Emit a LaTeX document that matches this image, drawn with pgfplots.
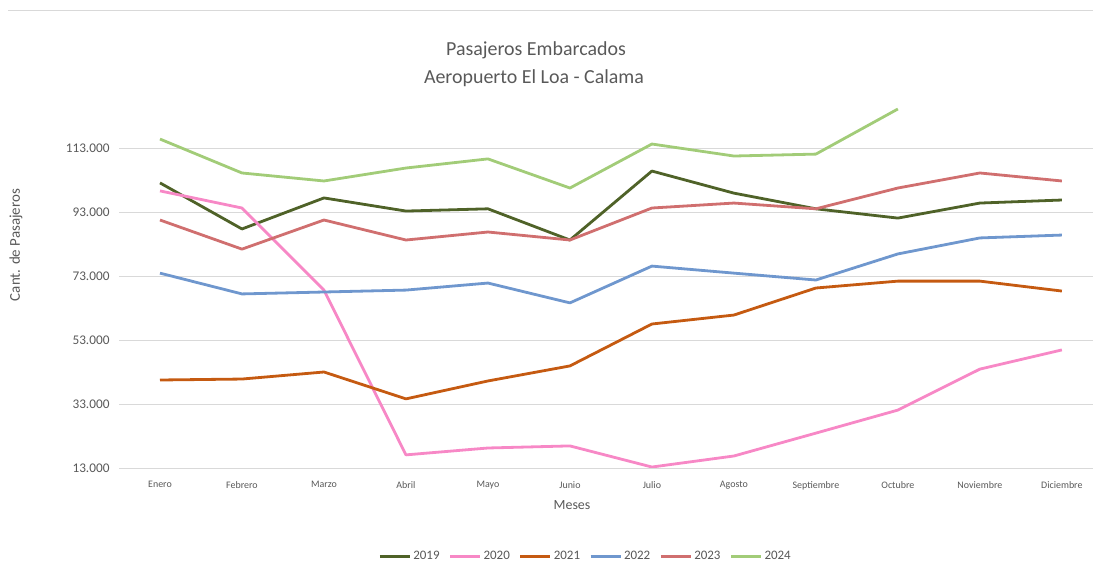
\documentclass[border=0pt]{standalone}
\usepackage{fontspec}
\setmainfont{Carlito}
\usepackage{pgfplots}
\pgfplotsset{compat=1.18}
\definecolor{c19}{HTML}{4F6228}
\definecolor{c20}{HTML}{F788C6}
\definecolor{c21}{HTML}{C55A11}
\definecolor{c22}{HTML}{6F97CE}
\definecolor{c23}{HTML}{D06F6F}
\definecolor{c24}{HTML}{A2CC78}
\definecolor{txt}{HTML}{595959}
\definecolor{grd}{HTML}{D9D9D9}
\begin{document}
\begin{tikzpicture}[x=1bp,y=1bp]
\useasboundingbox (0,0) rectangle (1093,575);
\draw[draw=grd, line width=0.8bp] (8,565) -- (1093,565);
\node[txt, font=\fontsize{20}{24}\selectfont] at (536,525) {Pasajeros Embarcados};
\node[txt, font=\fontsize{20}{24}\selectfont] at (534,497) {Aeropuerto El Loa - Calama};
\node[txt, font=\fontsize{15}{18}\selectfont, rotate=90] at (16,330) {Cant. de Pasajeros};
\node[txt, font=\fontsize{14}{16}\selectfont] at (572,70) {Meses};
\begin{axis}[
  at={(119bp,107bp)}, anchor=south west,
  width=974bp, height=383bp, scale only axis,
  xmin=-0.5, xmax=11.38, ymin=13000, ymax=132700,
  axis line style={draw=none},
  xtick=data,
  xticklabels={Enero,Febrero,Marzo,Abril,Mayo,Junio,Julio,Agosto,Septiembre,Octubre,Noviembre,Diciembre},
  ytick={13000,33000,53000,73000,93000,113000},
  scaled y ticks=false,
  ymajorgrids, grid style={draw=grd, line width=0.9bp},
  major tick length=0pt,
  yticklabel={\pgfmathprintnumber[fixed,precision=0,1000 sep={.},assume math mode=true]{\tick}},
  xticklabel style={txt, font=\fontsize{10}{11}\selectfont, yshift=-10bp},
  yticklabel style={txt, font=\fontsize{13.3}{15}\selectfont, xshift=-6bp},
  every axis plot/.append style={line width=2.8bp, line join=round},
  legend style={draw=none, at={(axis description cs:0.479,-0.23)}, anchor=center,
    font=\fontsize{13}{15}\selectfont, text=txt, legend columns=-1,
    /tikz/every even column/.append style={column sep=7bp}},
  legend image code/.code={\draw[#1, line width=3bp] (0bp,0bp) -- (30bp,0bp);},
]
\addplot[c19] coordinates {(0,102100) (1,87700) (2,97400) (3,93300) (4,94000) (5,84250) (6,105800) (7,98900) (8,94000) (9,91100) (10,95800) (11,96750)};
\addplot[c20] coordinates {(0,99600) (1,94250) (2,68600) (3,17100) (4,19250) (5,19900) (6,13300) (7,16750) (8,23900) (9,31100) (10,43900) (11,49900)};
\addplot[c21] coordinates {(0,40500) (1,40800) (2,43000) (3,34600) (4,40200) (5,44900) (6,58000) (7,60800) (8,69250) (9,71400) (10,71400) (11,68300)};
\addplot[c22] coordinates {(0,73900) (1,67400) (2,68000) (3,68600) (4,70800) (5,64600) (6,76100) (7,73900) (8,71750) (9,79900) (10,84900) (11,85800)};
\addplot[c23] coordinates {(0,90500) (1,81400) (2,90500) (3,84250) (4,86750) (5,84250) (6,94250) (7,95800) (8,94000) (9,100500) (10,105200) (11,102700)};
\addplot[c24] coordinates {(0,115800) (1,105200) (2,102700) (3,106750) (4,109600) (5,100500) (6,114250) (7,110500) (8,111100) (9,125200)};
\legend{2019,2020,2021,2022,2023,2024}
\end{axis}
\end{tikzpicture}
\end{document}
